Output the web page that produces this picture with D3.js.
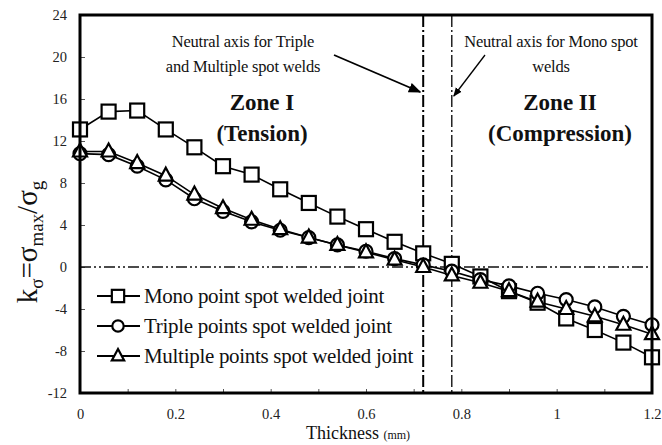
<!DOCTYPE html>
<html>
<head>
<meta charset="utf-8">
<script src="https://cdn.jsdelivr.net/npm/d3@7/dist/d3.min.js"></script>
<style>
  body { margin: 0; background: #fff; }
  svg text { font-family: "Liberation Serif", "Times New Roman", serif; }
</style>
</head>
<body>
<svg id="chart" width="662" height="445"></svg>
<script>
// Stress concentration factor across the sheet thickness
const thickness = [0, 0.06, 0.12, 0.18, 0.24, 0.30, 0.36, 0.42, 0.48, 0.54, 0.60,
                   0.66, 0.72, 0.78, 0.84, 0.90, 0.96, 1.02, 1.08, 1.14, 1.20];
const mono     = [13.1, 14.8, 14.9, 13.1, 11.4, 9.6, 8.8, 7.4, 6.1, 4.8, 3.6,
                  2.4, 1.3, 0.3, -0.9, -2.3, -3.4, -4.9, -6.0, -7.2, -8.6];
const triple   = [10.8, 10.7, 9.6, 8.3, 6.5, 5.3, 4.3, 3.5, 2.8, 2.1, 1.5,
                  0.8, 0.2, -0.4, -1.2, -1.8, -2.5, -3.1, -3.8, -4.7, -5.5];
const multiple = [11.0, 11.0, 9.9, 8.7, 6.9, 5.6, 4.5, 3.6, 2.8, 2.1, 1.4,
                  0.7, 0.0, -0.8, -1.5, -2.3, -3.3, -4.0, -4.7, -5.5, -6.4];
const seriesNames = ["Mono point spot welded joint",
                     "Triple points spot welded joint",
                     "Multiple points spot welded joint"];
const xTickLabels = [0, 0.2, 0.4, 0.6, 0.8, 1, 1.2];
const xMinorTicks = [0.1, 0.2, 0.3, 0.4, 0.5, 0.6, 0.7, 0.8, 0.9, 1.0, 1.1];
const yTickLabels = [-12, -8, -4, 0, 4, 8, 12, 16, 20, 24];
const neutralAxes = [0.72, 0.78];

const FONT = "Liberation Serif";
const svg = d3.select("#chart");
const x = d3.scaleLinear().domain([0, 1.2]).range([80, 652]);
const y = d3.scaleLinear().domain([-12, 24]).range([393, 15]);

// inward minor ticks
svg.append("g")
  .attr("transform", `translate(0,${y(-12)})`)
  .call(d3.axisBottom(x).tickValues(xMinorTicks).tickSize(-4).tickFormat(""))
  .call(g => g.select(".domain").remove())
  .call(g => g.selectAll("line").attr("stroke", "#555").attr("stroke-width", 1));
svg.append("g")
  .attr("transform", `translate(${x(0)},0)`)
  .call(d3.axisLeft(y).tickValues(yTickLabels.slice(1, -1)).tickSize(-5).tickFormat(""))
  .call(g => g.select(".domain").remove())
  .call(g => g.selectAll("line").attr("stroke", "#555").attr("stroke-width", 1));

// tick labels
svg.append("g")
  .attr("transform", `translate(0,${y(-12)})`)
  .call(d3.axisBottom(x).tickValues(xTickLabels).tickSize(0).tickPadding(16)
        .tickFormat(d => String(d)))
  .attr("font-family", FONT)
  .call(g => g.select(".domain").remove())
  .call(g => g.selectAll("text").attr("font-family", FONT)
        .attr("font-size", 14.5).attr("fill", "#222"));
svg.append("g")
  .attr("transform", `translate(${x(0)},0)`)
  .call(d3.axisLeft(y).tickValues(yTickLabels).tickSize(0).tickPadding(13)
        .tickFormat(d => String(d)))
  .attr("font-family", FONT)
  .call(g => g.select(".domain").remove())
  .call(g => g.selectAll("text").attr("font-family", FONT)
        .attr("font-size", 14.5).attr("fill", "#222"));

// zero line and neutral axes
svg.append("line")
  .attr("x1", x(0)).attr("x2", x(1.2)).attr("y1", y(0)).attr("y2", y(0))
  .attr("stroke", "#111").attr("stroke-width", 1.3)
  .attr("stroke-dasharray", "11,3,2,3,2,3");
svg.selectAll(".neutral").data(neutralAxes).join("line")
  .attr("class", "neutral")
  .attr("x1", d => x(d)).attr("x2", d => x(d))
  .attr("y1", y(24)).attr("y2", y(-12))
  .attr("stroke", "#000")
  .attr("stroke-width", (d, i) => i === 0 ? 2 : 1.3)
  .attr("stroke-dasharray", "12,3,2,3");

// series
const series = [
  { values: mono, marker: "square" },
  { values: triple, marker: "circle" },
  { values: multiple, marker: "triangle" }
];
const line = d3.line().x(d => x(d[0])).y(d => y(d[1]));
function drawMarker(sel, kind, s) {
  if (kind === "square") {
    sel.append("rect").attr("x", -7 * s).attr("y", -7 * s).attr("width", 14 * s).attr("height", 14 * s);
  } else if (kind === "circle") {
    sel.append("circle").attr("r", 6.5 * s);
  } else {
    sel.append("path").attr("d", `M0,${-8 * s}L${7 * s},${5 * s}L${-7 * s},${5 * s}Z`);
  }
  sel.attr("fill", "#fff").attr("stroke", "#000").attr("stroke-width", 2.2);
}
series.forEach(s => {
  const pts = thickness.map((t, i) => [t, s.values[i]]);
  svg.append("path").datum(pts).attr("d", line)
    .attr("fill", "none").attr("stroke", "#000").attr("stroke-width", 1.6);
});
series.forEach(s => {
  const pts = thickness.map((t, i) => [t, s.values[i]]);
  svg.append("g").selectAll("g").data(pts).join("g")
    .attr("transform", d => `translate(${x(d[0])},${y(d[1])})`)
    .each(function () { drawMarker(d3.select(this), s.marker, 1); });
});

// frame
svg.append("rect")
  .attr("x", x(0)).attr("y", y(24))
  .attr("width", x(1.2) - x(0)).attr("height", y(-12) - y(24))
  .attr("fill", "none").attr("stroke", "#000").attr("stroke-width", 3);

// legend
const legend = svg.append("g");
series.forEach((s, i) => {
  const ly = 296 + i * 30;
  legend.append("line").attr("x1", 97).attr("x2", 140).attr("y1", ly).attr("y2", ly)
    .attr("stroke", "#000").attr("stroke-width", 2);
  const m = legend.append("g").attr("transform", `translate(118,${ly})`);
  drawMarker(m, s.marker, 0.88);
  legend.append("text").attr("x", 144).attr("y", ly + 7)
    .attr("font-family", FONT).attr("font-size", 21)
    .attr("letter-spacing", -0.3).attr("fill", "#111").text(seriesNames[i]);
});

// zone labels
const zones = [
  { cx: 262, lines: ["Zone I", "(Tension)"] },
  { cx: 560, lines: ["Zone II", "(Compression)"] }
];
zones.forEach(z => {
  z.lines.forEach((t, i) => {
    svg.append("text").attr("x", z.cx).attr("y", 110 + i * 31)
      .attr("text-anchor", "middle").attr("font-family", FONT)
      .attr("font-size", 23).attr("font-weight", "bold")
      .attr("fill", "#111").text(t);
  });
});

// neutral axis annotations
svg.append("defs").append("marker")
  .attr("id", "arrow").attr("viewBox", "0 0 10 10").attr("refX", 9).attr("refY", 5)
  .attr("markerWidth", 7).attr("markerHeight", 7).attr("orient", "auto")
  .append("path").attr("d", "M0,1L10,5L0,9Z").attr("fill", "#000");
const notes = [
  { cx: 243, lines: ["Neutral axis for Triple", "and Multiple spot welds"] },
  { cx: 551, lines: ["Neutral axis for Mono spot", "welds"] }
];
notes.forEach(n => {
  n.lines.forEach((t, i) => {
    svg.append("text").attr("x", n.cx).attr("y", 47 + i * 25)
      .attr("text-anchor", "middle").attr("font-family", FONT).attr("font-size", 16.5)
      .attr("letter-spacing", -0.2).attr("fill", "#111").text(t);
  });
});
svg.append("line").attr("x1", 334).attr("y1", 55).attr("x2", x(0.72) - 3).attr("y2", 92)
  .attr("stroke", "#000").attr("stroke-width", 1.8).attr("marker-end", "url(#arrow)");
svg.append("line").attr("x1", 485).attr("y1", 55).attr("x2", x(0.78) + 2).attr("y2", 96)
  .attr("stroke", "#000").attr("stroke-width", 1.3).attr("marker-end", "url(#arrow)");

// axis titles
svg.append("text").attr("x", 358).attr("y", 439).attr("text-anchor", "middle")
  .attr("font-family", FONT).attr("fill", "#111")
  .call(t => {
    t.append("tspan").attr("font-size", 18).text("Thickness ");
    t.append("tspan").attr("font-size", 12).text("(mm)");
  });
const yl = svg.append("text")
  .attr("transform", `translate(37,242) rotate(-90)`)
  .attr("text-anchor", "middle").attr("font-family", FONT)
  .attr("fill", "#111").attr("font-size", 29);
yl.append("tspan").text("k");
yl.append("tspan").attr("font-size", 19).attr("dy", 6).text("σ");
yl.append("tspan").attr("dy", -6).text("=σ");
yl.append("tspan").attr("font-size", 19).attr("dy", 6).text("max");
yl.append("tspan").attr("dy", -6).text("/σ");
yl.append("tspan").attr("font-size", 19).attr("dy", 6).text("g");
</script>
</body>
</html>
